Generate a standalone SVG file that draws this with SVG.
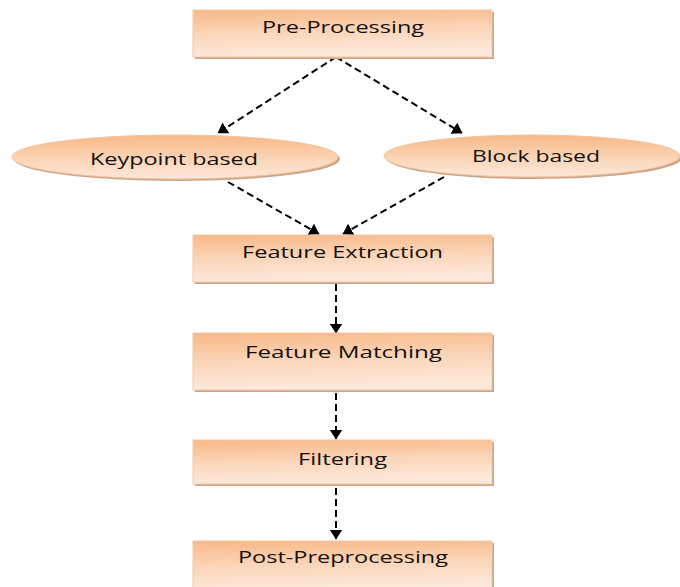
<svg xmlns="http://www.w3.org/2000/svg" width="680" height="587" viewBox="0 0 680 587">
<defs>
<linearGradient id="g" x1="0" y1="0" x2="0.15" y2="1">
<stop offset="0" stop-color="#f7b887"/>
<stop offset="0.5" stop-color="#fbd5b8"/>
<stop offset="1" stop-color="#fde9db"/>
</linearGradient>
<linearGradient id="ge" x1="0" y1="0" x2="0" y2="1">
<stop offset="0" stop-color="#f7b887"/>
<stop offset="0.55" stop-color="#fbd5b7"/>
<stop offset="1" stop-color="#fde8da"/>
</linearGradient>
<marker id="ah" viewBox="0 0 10 13" refX="9.5" refY="6.5" markerWidth="10" markerHeight="13" markerUnits="userSpaceOnUse" orient="auto">
<path d="M0,0 L10,6.5 L0,13 z" fill="#000"/>
</marker>
</defs>
<style>
.box{fill:url(#g);stroke:#f5c8a4;stroke-width:1}
.ell{fill:url(#ge);stroke:#f3c29b;stroke-width:1}
.sh{fill:#c9a58b}
.t{font-family:"Open Sans","Liberation Sans",sans-serif;font-size:17px;fill:#111;text-anchor:middle}
.c{stroke:#000;stroke-width:2;stroke-dasharray:7,4;fill:none;marker-end:url(#ah)}
</style>
<g id="connectors">
<line class="c" x1="336" y1="57" x2="218" y2="133"/>
<line class="c" x1="336" y1="57" x2="462" y2="133"/>
<line class="c" x1="228" y1="182" x2="319" y2="234"/>
<line class="c" x1="444" y1="177" x2="343" y2="234"/>
<line class="c" x1="336" y1="284" x2="336" y2="333"/>
<line class="c" x1="336" y1="393" x2="336" y2="439"/>
<line class="c" x1="336" y1="488" x2="336" y2="539"/>
</g>
<g id="pre">
<rect class="sh" x="195" y="12" width="299" height="47"/>
<rect class="box" x="193" y="10" width="299" height="47"/>
<text class="t" x="343" y="33" textLength="162" lengthAdjust="spacingAndGlyphs">Pre-Processing</text>
</g>
<g id="keypoint">
<ellipse class="sh" cx="177" cy="159" rx="163" ry="22"/>
<ellipse class="ell" cx="175" cy="157" rx="163" ry="22"/>
<text class="t" x="174" y="165" textLength="168" lengthAdjust="spacingAndGlyphs">Keypoint based</text>
</g>
<g id="block">
<ellipse class="sh" cx="534" cy="158" rx="148" ry="21"/>
<ellipse class="ell" cx="532" cy="156" rx="148" ry="21"/>
<text class="t" x="536" y="162" textLength="128" lengthAdjust="spacingAndGlyphs">Block based</text>
</g>
<g id="extraction">
<rect class="sh" x="195" y="237" width="299" height="47"/>
<rect class="box" x="193" y="235" width="299" height="47"/>
<text class="t" x="342.5" y="258" textLength="201" lengthAdjust="spacingAndGlyphs">Feature Extraction</text>
</g>
<g id="matching">
<rect class="sh" x="195" y="335" width="299" height="57"/>
<rect class="box" x="193" y="333" width="299" height="57"/>
<text class="t" x="343.5" y="358" textLength="197" lengthAdjust="spacingAndGlyphs">Feature Matching</text>
</g>
<g id="filtering">
<rect class="sh" x="195" y="442" width="299" height="44"/>
<rect class="box" x="193" y="440" width="299" height="44"/>
<text class="t" x="342.5" y="465" textLength="89" lengthAdjust="spacingAndGlyphs">Filtering</text>
</g>
<g id="post">
<rect class="sh" x="195" y="543" width="299" height="50"/>
<rect class="box" x="193" y="541" width="299" height="50"/>
<text class="t" x="343" y="563" textLength="210" lengthAdjust="spacingAndGlyphs">Post-Preprocessing</text>
</g>
</svg>
